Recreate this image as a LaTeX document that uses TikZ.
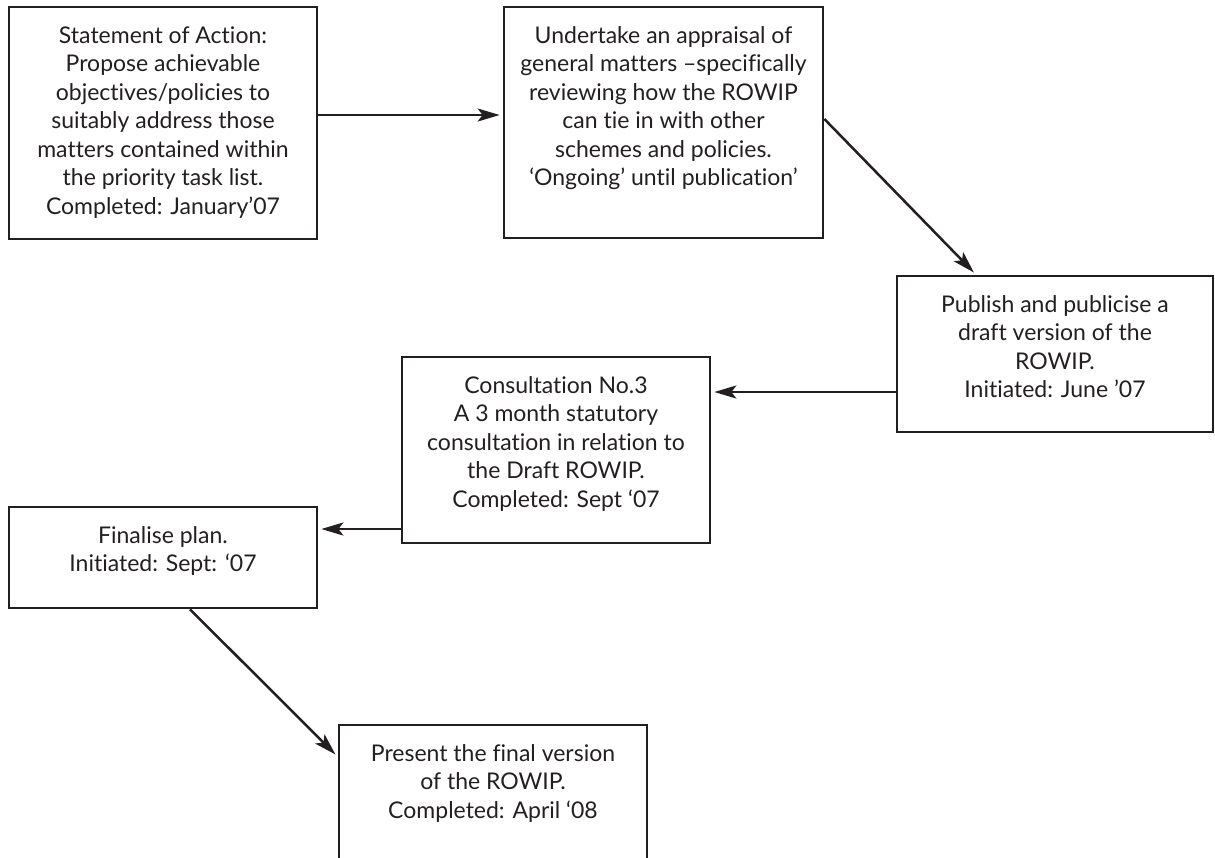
\documentclass[tikz,border=0pt]{standalone}
\usepackage{fontspec}
\setmainfont{Lato}[Ligatures=NoCommon]
\usepackage{xcolor}
\usetikzlibrary{arrows.meta}

\definecolor{ink}{HTML}{231F20}
% text of one step, set top-aligned in a box of fixed size
\newcommand{\tasklines}[3]{\parbox[c][#2][t]{#1}{\centering\fontsize{11.5pt}{14.25pt}\selectfont\color{ink}\rule{0pt}{18pt}#3}}

\begin{document}
\begin{tikzpicture}[
            x = 0.5pt, y = -0.5pt, % one unit per pixel
            > = {Stealth[length=11pt, width=6.5pt, inset=2.5pt]}, % arrow head style
            shorten > = 1.5pt, % small gap at the arrow head
            line width = 1.25pt, % line style
            task/.style = {shape=rectangle, draw=ink, line width=1.35pt, inner sep=0pt}
        ]
\useasboundingbox (0,0) rectangle (1215,857);
\clip (0,0) rectangle (1215,857);

\node[task] (action) at (163,123) {\tasklines{154pt}{116pt}{Statement of Action:\\ Propose achievable\\ objectives/policies to\\ suitably address those\\ matters contained within\\ the priority task list.\\ Completed: January’07}};
\node[task] (appraisal) at (663.5,122.5) {\tasklines{159.5pt}{115.5pt}{Undertake an appraisal of\\ general matters –specifically\\ reviewing how the ROWIP\\ can tie in with other\\ schemes and policies.\\ ‘Ongoing’ until publication’}};
\node[task] (publish) at (1055,354) {\tasklines{158pt}{78pt}{Publish and publicise a\\ draft version of the\\ ROWIP.\\ Initiated: June ’07}};
\node[task] (consult) at (556,450) {\tasklines{154pt}{93pt}{Consultation No.3\\ A 3 month statutory\\ consultation in relation to\\ the Draft ROWIP.\\ Completed: Sept ‘07}};
\node[task] (finalise) at (163,557.5) {\tasklines{154pt}{50.5pt}{Finalise plan.\\ Initiated: Sept: ‘07}};
\node[task] (present) at (493,796) {\tasklines{154pt}{71pt}{Present the final version\\ of the ROWIP.\\ Completed: April ‘08}};

 \path [->, color=ink] ([yshift=4pt]action.east) edge ([yshift=4pt]action.east -| appraisal.west);
 \path [->, color=ink] ([yshift=1.75pt]appraisal.east) edge ([xshift=-39.5pt]publish.north);
 \path [->, color=ink] ([yshift=-19pt]publish.west) edge ([yshift=-19pt]publish.west -| consult.east);
 \path [->, color=ink] ([yshift=-39.5pt]consult.west) edge ([yshift=-39.5pt]consult.west -| finalise.east);
 \path [->, color=ink] ([xshift=13.5pt]finalise.south) edge ([yshift=-16.5pt]present.north west);
\end{tikzpicture}
\end{document}
